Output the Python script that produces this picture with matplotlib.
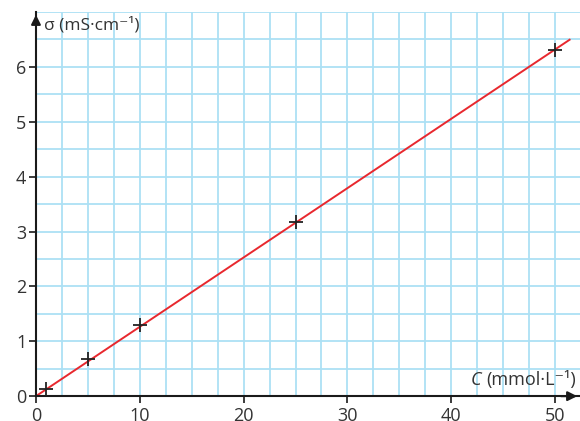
import numpy as np
import matplotlib
matplotlib.use("Agg")
import matplotlib.pyplot as plt

plt.rcParams['font.family'] = ['Open Sans', 'DejaVu Sans']

# measured points
conc = [1, 5, 10, 25, 50]
sigma = [0.13, 0.68, 1.30, 3.17, 6.30]
xticks = [0, 10, 20, 30, 40, 50]
yticks = [0, 1, 2, 3, 4, 5, 6]

x = np.array(conc, dtype=float)
y = np.array(sigma, dtype=float)
slope = np.sum(x * y) / np.sum(x * x)

fig = plt.figure(figsize=(5.8, 4.21), dpi=100)
ax = fig.add_axes([0.062, 0.059, 0.938, 0.9125])
ax.set_xlim(0, 52.4)
ax.set_ylim(0, 7.0)

grid_col = '#ade0f4'
for gx in np.arange(2.5, 52.5, 2.5):
    ax.axvline(gx, color=grid_col, lw=1.3, zorder=0)
for gy in np.arange(0.5, 7.01, 0.5):
    ax.axhline(gy, color=grid_col, lw=1.3, zorder=0)

xl = np.array([0, 51.4])
ax.plot(xl, slope * xl, color='#e8282e', lw=1.4, zorder=2)
ax.plot(conc, sigma, '+', color='#222222', ms=10, mew=1.3, zorder=3)

for s in ['top', 'right']:
    ax.spines[s].set_visible(False)
for s in ['left', 'bottom']:
    ax.spines[s].set_linewidth(1.5)
    ax.spines[s].set_color('#1a1a1a')

ax.set_xticks(xticks)
ax.set_yticks(yticks)
ax.tick_params(axis='x', direction='out', length=5, width=1.2, labelsize=13, pad=3,
               color='#1a1a1a', labelcolor='#333333')
ax.tick_params(axis='y', direction='out', length=5, width=1.2, labelsize=13, pad=2,
               color='#1a1a1a', labelcolor='#333333')

# axis arrows
ax.annotate('', xy=(1.0, 0), xycoords='axes fraction', xytext=(0.96, 0),
            arrowprops=dict(arrowstyle='-|>', color='#1a1a1a', lw=1.5, mutation_scale=14))
ax.annotate('', xy=(0, 1.0), xycoords='axes fraction', xytext=(0, 0.96),
            arrowprops=dict(arrowstyle='-|>', color='#1a1a1a', lw=1.5, mutation_scale=14))

ax.text(0.8, 6.75, 'σ (mS·cm⁻¹)', fontsize=12.5, va='center', ha='left', color='#333333')
unit = ax.text(52.0, 0.3, '(mmol·L⁻¹)', fontsize=13, va='center', ha='right', color='#333333')
ax.annotate('C ', xy=(0, 0.5), xycoords=unit, fontsize=13, va='center', ha='right',
            style='italic', color='#333333')

fig.savefig('out.png', dpi=100)
